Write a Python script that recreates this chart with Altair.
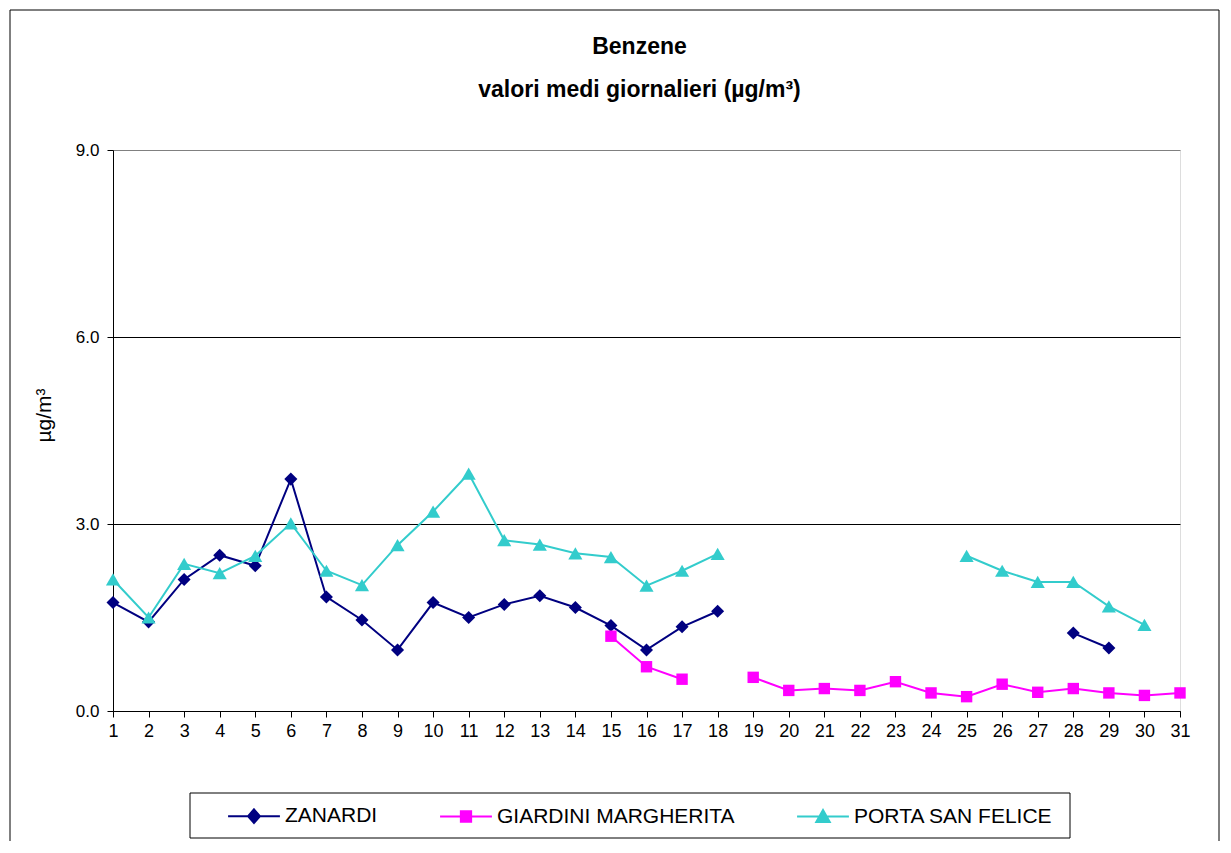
import altair as alt
import pandas as pd

days = list(range(1, 32))
series_names = ["ZANARDI", "GIARDINI MARGHERITA", "PORTA SAN FELICE"]
series_colors = ["#000080", "#FF00FF", "#33CCCC"]
marker_shapes = ["diamond", "square", "triangle-up"]
marker_sizes = [170, 130, 200]

N = None
zanardi = [1.74, 1.43, 2.11, 2.50, 2.33, 3.72, 1.83, 1.46, 0.98, 1.74,
           1.50, 1.71, 1.85, 1.66, 1.37, 0.98, 1.35, 1.60, N, N,
           N, N, N, N, N, N, N, 1.25, 1.01, N, N]
giardini = [N, N, N, N, N, N, N, N, N, N,
            N, N, N, N, 1.20, 0.71, 0.51, N, 0.54, 0.33,
            0.36, 0.33, 0.47, 0.29, 0.23, 0.43, 0.30, 0.36, 0.29, 0.25, 0.29]
porta = [2.11, 1.50, 2.36, 2.21, 2.49, 3.01, 2.25, 2.02, 2.66, 3.20,
         3.81, 2.74, 2.67, 2.53, 2.47, 2.01, 2.25, 2.52, N, N,
         N, N, N, N, 2.49, 2.25, 2.07, 2.07, 1.68, 1.38, N]

# legend symbols: a line segment with the series marker in the middle
legend_paths = [
    "M-0.96,0H0.96M0,-0.25L0.22,0L0,0.25L-0.22,0Z",
    "M-0.96,0H0.96M-0.19,-0.19H0.19V0.19H-0.19Z",
    "M-0.96,0H0.96M0,-0.24L0.25,0.2L-0.25,0.2Z",
]

rows = []
for name, vals in zip(series_names, [zanardi, giardini, porta]):
    seg = 0
    prev = None
    for d, v in zip(days, vals):
        if v is None:
            continue
        if prev is not None and d - prev > 1:
            seg += 1
        rows.append({"day": d, "value": v, "series": name, "seg": f"{name}-{seg}"})
        prev = d
df = pd.DataFrame(rows)

FONT = "Liberation Sans"

x_enc = alt.X(
    "day:O",
    scale=alt.Scale(type="point", padding=0, domain=days),
    axis=alt.Axis(
        title=None, labelAngle=0, labelFont=FONT, labelFontSize=18,
        labelColor="black", domainColor="black", tickColor="black",
        tickSize=6, labelPadding=5, grid=False,
    ),
)
y_enc = alt.Y(
    "value:Q",
    scale=alt.Scale(domain=[0, 9], nice=False),
    axis=alt.Axis(
        values=[0, 3, 6, 9], format=".1f", title="µg/m³",
        labelFont=FONT, labelFontSize=17, labelColor="black",
        titleFont=FONT, titleFontSize=21, titleFontWeight="normal",
        titleColor="black", titleX=-69, titleY=265, titleAngle=270,
        titleAlign="center", titleBaseline="middle",
        domainColor="black", tickColor="black", tickSize=6, labelPadding=8,
        grid=True,
        gridColor={"condition": {"test": "datum.value === 9", "value": "#808080"}, "value": "black"},
        gridWidth=1,
    ),
)

base = alt.Chart(df)
layers = []

# outer chart frame
frame = alt.Chart(pd.DataFrame({"k": [0]})).mark_rect(
    fill="transparent", stroke="black", strokeWidth=1, clip=False
).encode(x=alt.value(-103), x2=alt.value(1106), y=alt.value(-140), y2=alt.value(720))
layers.append(frame)

# legend box
legbox = alt.Chart(pd.DataFrame({"k": [0]})).mark_rect(
    fill="transparent", stroke="black", strokeWidth=1, clip=False
).encode(x=alt.value(77), x2=alt.value(957), y=alt.value(643), y2=alt.value(688))
layers.append(legbox)

for name, col, shp, sz in zip(series_names, series_colors, marker_shapes, marker_sizes):
    sub = base.transform_filter(alt.datum.series == name)
    layers.append(
        sub.mark_line(color=col, strokeWidth=2).encode(x=x_enc, y=y_enc, detail="seg:N")
    )
    layers.append(
        sub.mark_point(shape=shp, filled=True, size=sz, color=col, opacity=1).encode(x=x_enc, y=y_enc)
    )

leg = alt.Legend(
    title=None, orient="none", legendX=113, legendY=638, direction="horizontal",
    labelFont=FONT, labelFontSize=21, labelColor="black", columnPadding=58,
    padding=0, symbolSize=2916, symbolStrokeWidth=2, symbolOpacity=1,
    labelOffset=3, labelLimit=500,
)
proxy = base.mark_point(filled=True, opacity=0).encode(
    x=x_enc, y=y_enc,
    fill=alt.Fill("series:N", scale=alt.Scale(domain=series_names, range=series_colors), legend=leg, sort=series_names),
    stroke=alt.Stroke("series:N", scale=alt.Scale(domain=series_names, range=series_colors), legend=leg, sort=series_names),
    shape=alt.Shape("series:N", scale=alt.Scale(domain=series_names, range=legend_paths), legend=leg, sort=series_names),
)
layers.append(proxy)

chart = alt.layer(*layers).properties(
    width=1067, height=561,
    padding={"left": 105, "top": 142, "right": 43, "bottom": 130},
    autosize=alt.AutoSizeParams(type="none"),
    title=alt.TitleParams(
        text=["Benzene", "valori medi giornalieri (µg/m³)"],
        font=FONT, fontSize=23, fontWeight="bold", color="black",
        anchor="middle", frame="group", baseline="bottom", offset=0,
        dy=115, lineHeight=43, dx=-7,
    ),
).configure_view(stroke="#808080", strokeWidth=1).configure(background="white")

chart.save("out.html", embed_options={"renderer": "svg", "actions": False})
